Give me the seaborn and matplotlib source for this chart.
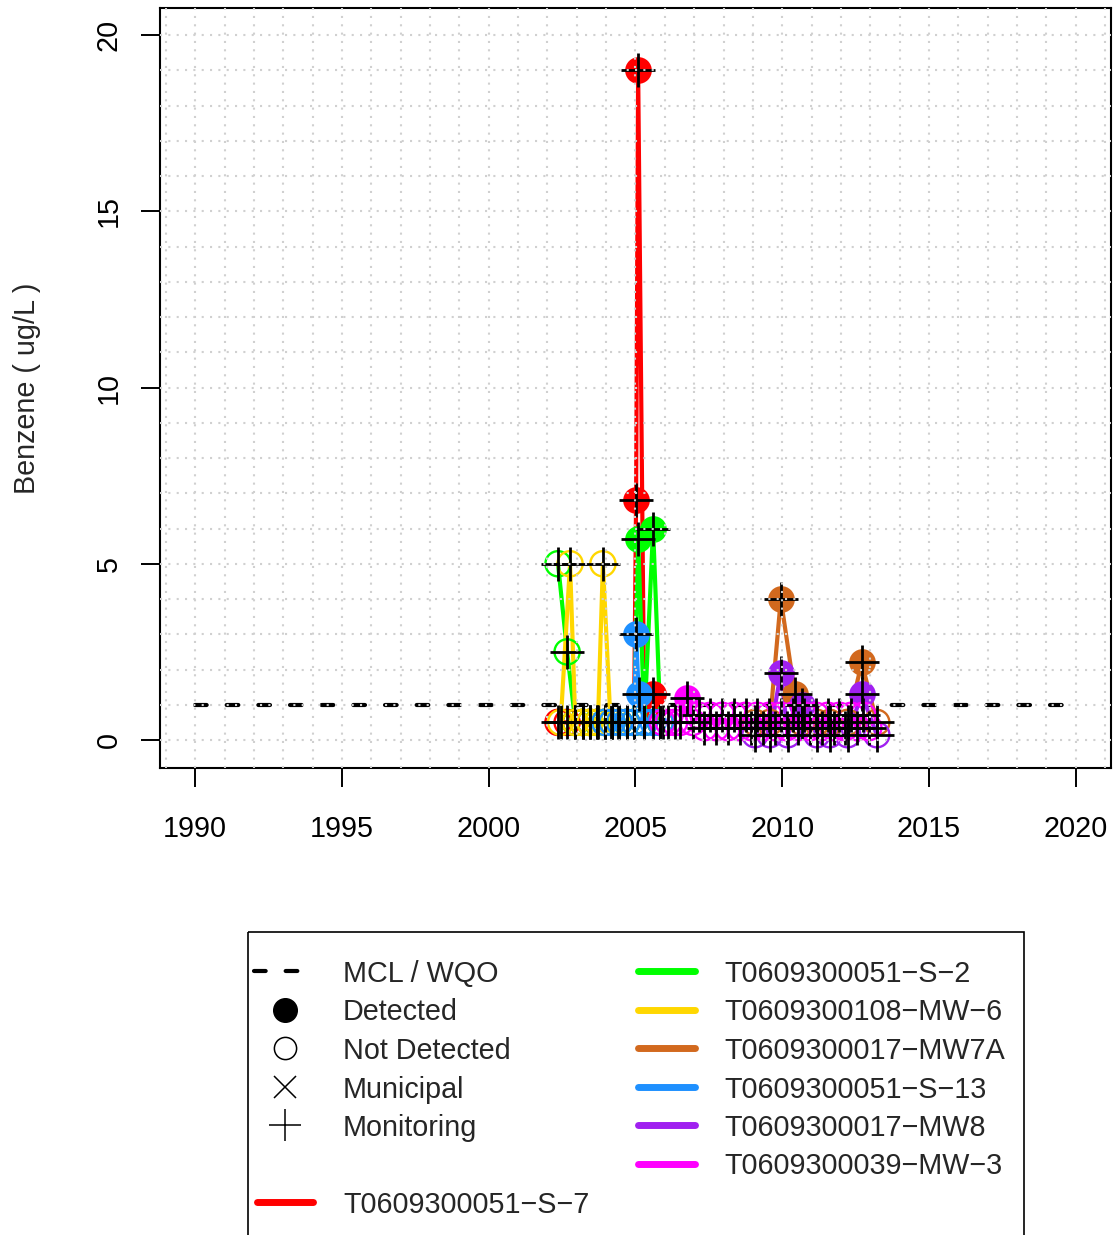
import numpy as np
import pandas as pd
import matplotlib
matplotlib.use("Agg")
import matplotlib.pyplot as plt
from matplotlib.ticker import MultipleLocator
from matplotlib.patches import Rectangle
import seaborn as sns

# ---------------- data ----------------
well_names = ["T0609300051\u2212S\u22127", "T0609300051\u2212S\u22122", "T0609300108\u2212MW\u22126",
              "T0609300017\u2212MW7A", "T0609300051\u2212S\u221213", "T0609300017\u2212MW8",
              "T0609300039\u2212MW\u22123"]
well_colors = ["#FF0000", "#00FF00", "#FFD700", "#D2691E", "#1E90FF", "#A020F0", "#FF00FF"]

s7_dates = [2002.36, 2002.67, 2002.95, 2003.2, 2003.45, 2003.7, 2003.95, 2004.2, 2004.45, 2004.7,
            2004.95, 2005.02, 2005.09, 2005.3, 2005.6, 2005.85]
s7_vals = [0.5, 0.5, 0.5, 0.5, 0.5, 0.5, 0.5, 0.5, 0.5, 0.5, 0.5, 6.8, 19.0, 0.5, 1.3, 0.5]
s7_det = [0, 0, 0, 0, 0, 0, 0, 0, 0, 0, 0, 1, 1, 0, 1, 0]

s2_dates = [2002.36, 2002.67, 2002.95, 2003.2, 2003.45, 2003.7, 2003.95, 2004.2, 2004.45, 2004.7,
            2004.95, 2005.09, 2005.3, 2005.6, 2005.85]
s2_vals = [5.0, 2.5, 0.5, 0.5, 0.5, 0.5, 0.5, 0.5, 0.5, 0.5, 0.5, 5.7, 0.5, 6.0, 0.5]
s2_det = [0, 0, 0, 0, 0, 0, 0, 0, 0, 0, 0, 1, 0, 1, 0]

mw6_dates = [2002.45, 2002.77, 2002.95, 2003.2, 2003.45, 2003.72, 2003.89, 2004.15, 2004.4]
mw6_vals = [0.5, 5.0, 0.5, 0.5, 0.5, 0.5, 5.0, 0.5, 0.5]
mw6_det = [0, 0, 0, 0, 0, 0, 0, 0, 0]

mw7a_dates = [2009.07, 2009.58, 2009.95, 2010.43, 2010.67, 2011.18, 2011.62, 2012.23, 2012.71, 2013.22]
mw7a_vals = [0.5, 0.5, 4.0, 1.3, 0.5, 0.5, 0.5, 0.5, 2.2, 0.5]
mw7a_det = [0, 0, 1, 1, 0, 0, 0, 0, 1, 0]

s13_dates = [2003.95, 2004.2, 2004.45, 2004.7, 2004.95, 2005.02, 2005.11, 2005.3, 2005.6, 2005.85]
s13_vals = [0.5, 0.5, 0.5, 0.5, 0.5, 3.0, 1.3, 0.5, 0.5, 0.5]
s13_det = [0, 0, 0, 0, 0, 1, 1, 0, 0, 0]

mw8_dates = [2009.07, 2009.58, 2009.95, 2010.19, 2010.67, 2011.18, 2011.62, 2012.23, 2012.71, 2013.22]
mw8_vals = [0.15, 0.15, 1.9, 0.15, 1.0, 0.15, 0.15, 0.15, 1.3, 0.15]
mw8_det = [0, 0, 1, 0, 1, 0, 0, 0, 1, 0]

mw3_dates = [2005.92, 2006.12, 2006.33, 2006.52, 2006.75, 2006.95, 2007.15, 2007.35, 2007.55, 2007.75,
             2007.95, 2008.15, 2008.35, 2008.55, 2008.75, 2008.95, 2009.15, 2009.35, 2009.55, 2009.75,
             2009.95, 2010.15, 2010.35, 2010.55, 2010.75, 2010.95, 2011.15, 2011.35, 2011.55, 2011.75,
             2011.95, 2012.15, 2012.35, 2012.55, 2012.75, 2012.95]
mw3_vals = [0.5, 0.5, 0.5, 0.5, 1.2, 0.5, 0.7, 0.35, 0.7, 0.35,
            0.7, 0.35, 0.7, 0.35, 0.7, 0.35, 0.7, 0.35, 0.7, 0.35,
            0.7, 0.35, 0.7, 0.35, 0.7, 0.35, 0.7, 0.35, 0.7, 0.35,
            0.7, 0.35, 0.7, 0.35, 0.7, 0.35]
mw3_det = [0, 0, 0, 0, 1, 0, 0, 0, 0, 0, 0, 0, 0, 0, 0, 0, 0, 0, 0, 0,
           0, 0, 0, 0, 0, 0, 0, 0, 0, 0, 0, 0, 0, 0, 0, 0]

mcl_years = [1990, 2020]
mcl_vals = [1.0, 1.0]

x_ticks = [1990, 1995, 2000, 2005, 2010, 2015, 2020]
y_ticks = [0, 5, 10, 15, 20]

series = [(s7_dates, s7_vals, s7_det), (s2_dates, s2_vals, s2_det), (mw6_dates, mw6_vals, mw6_det),
          (mw7a_dates, mw7a_vals, mw7a_det), (s13_dates, s13_vals, s13_det),
          (mw8_dates, mw8_vals, mw8_det), (mw3_dates, mw3_vals, mw3_det)]

frames = []
for name, (d, v, det) in zip(well_names, series):
    frames.append(pd.DataFrame({"well": name, "date": d, "value": v, "detected": det}))
df = pd.concat(frames, ignore_index=True)

# ---------------- figure ----------------
sns.set_style("white")
plt.rcParams["font.family"] = ["Liberation Sans", "DejaVu Sans"]
FS = 20.7

W, H = 1113, 1235
fig = plt.figure(figsize=(W / 100, H / 100), dpi=100)
L, R, T, B = 160, 1111, 8, 768
ax = fig.add_axes([L / W, 1 - B / H, (R - L) / W, (B - T) / H])

# MCL line
sns.lineplot(x=mcl_years, y=mcl_vals, ax=ax, color="black", lw=3, dashes=False,
             estimator=None, sort=False, zorder=2)
ax.lines[-1].set_dashes((2.8, 4.8))
ax.lines[-1].set_dash_capstyle("round")

for name, col in zip(well_names, well_colors):
    sub = df[df["well"] == name]
    sns.lineplot(data=sub, x="date", y="value", ax=ax, color=col, lw=3,
                 estimator=None, sort=False, solid_capstyle="round",
                 solid_joinstyle="round", zorder=2)
    det = sub[sub["detected"] == 1]
    nd = sub[sub["detected"] == 0]
    if len(nd):
        sns.scatterplot(data=nd, x="date", y="value", ax=ax, color=col, s=330,
                        linewidth=1.7, zorder=3)
        c = ax.collections[-1]
        c.set_facecolor("none")
        c.set_edgecolor(col)
        c.set_linewidth(1.7)
    if len(det):
        sns.scatterplot(data=det, x="date", y="value", ax=ax, color=col, s=370,
                        linewidth=0, zorder=3)

# monitoring-well crosses on top
sns.scatterplot(data=df, x="date", y="value", ax=ax, color="black", marker="+",
                s=580, linewidth=2.0, zorder=4)

ax.set_xlim(1988.8, 2021.2)
ax.set_ylim(-0.794, 20.766)
ax.set_xticks(x_ticks)
ax.set_xticklabels([str(t) for t in x_ticks])
ax.set_yticks(y_ticks)
ax.set_yticklabels([str(t) for t in y_ticks], rotation=90, va="center")
ax.xaxis.set_minor_locator(MultipleLocator(1))
ax.yaxis.set_minor_locator(MultipleLocator(1))
ax.tick_params(which="major", direction="out", length=14, width=1.4, labelsize=FS,
               color="black", labelcolor="black", bottom=True, left=True)
ax.tick_params(axis="x", which="major", pad=20)
ax.tick_params(axis="y", which="major", pad=13)
ax.tick_params(which="minor", length=0, bottom=False, left=False)
ax.grid(True, which="both", color="#D0D0D0", linestyle=(0, (1, 3)), linewidth=1.5)
ax.xaxis.set_zorder(10)
ax.yaxis.set_zorder(10)
for s in ax.spines.values():
    s.set_linewidth(1.5)
    s.set_color("black")
ax.set_xlabel("")
ax.set_ylabel("Benzene ( ug/L )", fontsize=FS, va="center")
ax.yaxis.set_label_coords((27 - L) / (R - L), 0.5)

# ---------------- legend (drawn in pixel space) ----------------
lax = fig.add_axes([0, 0, 1, 1])
lax.set_xlim(0, W)
lax.set_ylim(H, 0)
lax.axis("off")
lax.add_patch(Rectangle((248, 932), 776, 400, fill=False, lw=1.2, edgecolor="black"))

rows = [971, 1009.5, 1048, 1086.5, 1125, 1163.5, 1202]
lx1, tx1 = 285, 343
ln = lax.plot([254, 301], [rows[0], rows[0]], color="black", lw=3)[0]
ln.set_dashes((2.8, 4.8))
ln.set_dash_capstyle("round")
lax.plot([lx1], [rows[1]], "o", ms=17, color="black")
lax.plot([lx1], [rows[2]], "o", ms=16, mfc="none", mec="black", mew=1.1)
lax.plot([lx1], [rows[3]], "x", ms=16, color="black", mew=1.1)
lax.plot([lx1], [rows[4]], "+", ms=23, color="black", mew=1.1)
lax.plot([257, 313], [rows[6], rows[6]], color=well_colors[0], lw=5, solid_capstyle="round")
sym_labels = ["MCL / WQO", "Detected", "Not Detected", "Municipal", "Monitoring"]
for i, t in enumerate(sym_labels):
    lax.text(tx1, rows[i], t, fontsize=FS, va="center_baseline", ha="left")
lax.text(tx1, rows[6], well_names[0], fontsize=FS, va="center_baseline", ha="left")

lx2a, lx2b, tx2 = 638, 695, 724
for i in range(6):
    lax.plot([lx2a, lx2b], [rows[i], rows[i]], color=well_colors[i + 1], lw=5,
             solid_capstyle="round")
    lax.text(tx2, rows[i], well_names[i + 1], fontsize=FS, va="center_baseline", ha="left")

fig.savefig("out.png", dpi=100)
